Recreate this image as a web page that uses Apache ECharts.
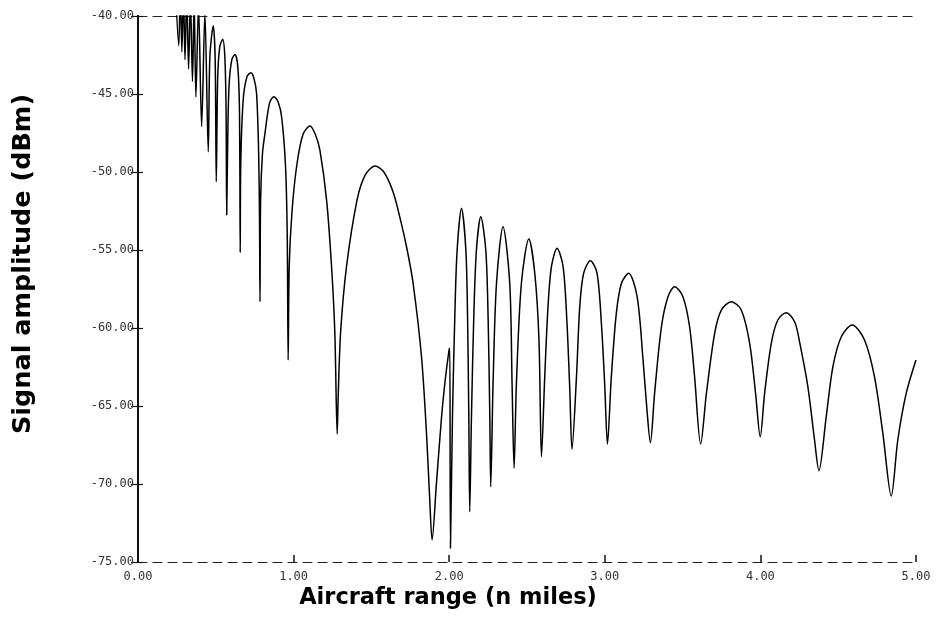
<!DOCTYPE html>
<html lang="en">
<head>
    <meta charset="UTF-8">
    <title>Signal amplitude vs aircraft range</title>
    <script src="https://cdn.jsdelivr.net/npm/echarts@6/dist/echarts.min.js"></script>
    <style>
        html, body { margin: 0; padding: 0; background: #fff; }
    </style>
</head>
<body>
<div id="echarts" style="width: 941px;height:629px"></div>
<script>
    // 轴刻度
    var xTicks = [0, 1, 2, 3, 4, 5];
    var yTicks = [-75, -70, -65, -60, -55, -50, -45, -40];

    // 曲线: [range (n miles), amplitude (dBm)]
    var rangeNear = [
        [0.240, -38.0], [0.262, -41.9], [0.272, -38.2], [0.282, -42.3], [0.292, -38.4],
        [0.302, -42.8], [0.313, -38.6], [0.325, -43.4], [0.337, -38.8], [0.350, -44.2],
        [0.361, -39.0], [0.372, -45.2], [0.389, -39.3], [0.409, -47.10], [0.430, -39.8],
        [0.4515, -48.70], [0.462, -42.6], [0.4836, -40.62], [0.496, -42.8], [0.503, -50.62],
        [0.512, -44.0], [0.525, -42.0], [0.544, -41.49], [0.558, -42.6], [0.566, -46.0], [0.570, -52.76],
        [0.578, -47.0], [0.586, -44.31], [0.603, -42.8], [0.623, -42.46], [0.641, -43.2], [0.652, -46.0], [0.657, -55.16],
        [0.660, -49.66], [0.676, -45.38], [0.700, -43.9], [0.726, -43.63], [0.745, -44.0], [0.762, -44.96],
        [0.775, -48.6], [0.781, -53.0], [0.784, -58.31],
        [0.788, -51.8], [0.800, -48.8], [0.816, -47.52], [0.845, -45.6], [0.873, -45.17], [0.900, -45.5],
        [0.923, -46.46], [0.948, -49.6], [0.959, -54.0], [0.965, -62.05],
        [0.972, -56.0], [0.990, -52.5], [1.020, -49.6], [1.060, -47.6], [1.105, -47.05], [1.140, -47.6],
        [1.169, -48.6], [1.212, -51.8], [1.244, -56.07], [1.265, -60.3], [1.280, -66.8],
        [1.286, -64.6], [1.302, -60.3], [1.340, -56.07], [1.408, -51.79], [1.460, -50.2], [1.524, -49.62],
        [1.580, -50.0], [1.640, -51.3], [1.690, -53.2], [1.730, -55.0], [1.768, -57.13], [1.822, -61.84],
        [1.854, -66.73], [1.875, -71.03], [1.890, -73.59]
    ];
    var rangeFar = [
        [1.918, -69.96], [1.951, -65.69], [1.972, -63.54], [1.999, -61.41], [2.004, -61.30], [2.008, -74.12],
        [2.021, -65.69], [2.036, -59.28], [2.051, -55.0], [2.079, -52.33], [2.107, -55.0], [2.118, -59.28],
        [2.126, -65.69], [2.132, -71.78],
        [2.143, -65.69], [2.158, -59.28], [2.175, -55.0], [2.203, -52.87], [2.235, -55.0], [2.250, -59.28],
        [2.261, -65.69], [2.267, -70.17],
        [2.282, -63.54], [2.304, -57.13], [2.346, -53.51], [2.389, -57.13], [2.404, -63.54], [2.417, -68.99],
        [2.432, -63.54], [2.464, -57.13], [2.512, -54.3], [2.550, -56.49], [2.577, -60.77], [2.593, -68.25],
        [2.614, -63.12], [2.635, -58.63], [2.657, -56.07], [2.693, -54.89], [2.732, -56.07], [2.757, -59.70],
        [2.775, -63.97], [2.789, -67.78],
        [2.818, -63.12], [2.839, -58.63], [2.864, -56.49], [2.907, -55.69], [2.950, -56.49], [2.978, -59.70],
        [2.999, -63.54], [3.017, -67.44],
        [3.042, -63.12], [3.074, -59.06], [3.107, -57.13], [3.153, -56.49], [3.208, -58.0], [3.245, -61.94],
        [3.271, -65.26], [3.293, -67.35],
        [3.320, -64.19], [3.364, -59.92], [3.406, -57.99], [3.449, -57.35], [3.502, -57.99], [3.545, -59.92],
        [3.577, -63.12], [3.616, -67.44],
        [3.653, -64.19], [3.706, -60.34], [3.749, -58.85], [3.813, -58.31], [3.877, -58.85], [3.931, -60.98],
        [3.969, -64.19], [3.999, -66.97],
        [4.027, -64.19], [4.070, -60.98], [4.112, -59.49], [4.166, -59.02], [4.220, -59.60], [4.252, -60.9],
        [4.305, -63.76], [4.348, -67.18], [4.376, -69.15],
        [4.423, -65.69], [4.466, -62.48], [4.520, -60.56], [4.590, -59.81], [4.669, -60.77], [4.733, -63.12],
        [4.787, -66.75], [4.841, -70.77],
        [4.883, -67.18], [4.937, -64.19], [5.000, -62.05]
    ];
    var signal = rangeNear.concat(rangeFar);

    var chartDom = document.getElementById('echarts');
    var myChart = echarts.init(chartDom);
    var option;

    var tickFont = {
        fontFamily: 'DejaVu Sans Mono',
        fontSize: 12,
        color: '#333'
    };

    option = {
        animation: false,
        backgroundColor: '#fff',
        grid: {
            left: 138,
            right: 25,
            top: 16,
            bottom: 67
        },
        xAxis: [{
            type: 'value',
            position: 'bottom',
            min: xTicks[0],
            max: xTicks[xTicks.length - 1],
            interval: 1,
            axisLine: { lineStyle: { color: '#222', width: 1.2, type: [9, 6] } },
            axisTick: { inside: true, length: 7, lineStyle: { color: '#111', width: 1.5 } },
            axisLabel: Object.assign({ margin: 9, formatter: function (v) { return v.toFixed(2); } }, tickFont),
            splitLine: { show: false }
        }, {
            type: 'value',
            position: 'top',
            min: xTicks[0],
            max: xTicks[xTicks.length - 1],
            interval: 1,
            axisLine: { lineStyle: { color: '#222', width: 1.2, type: [9, 6] } },
            axisTick: { show: false },
            axisLabel: { show: false },
            splitLine: { show: false }
        }],
        yAxis: [{
            type: 'value',
            position: 'left',
            min: yTicks[0],
            max: yTicks[yTicks.length - 1],
            interval: 5,
            axisLine: { show: true, lineStyle: { color: '#111', width: 2 } },
            axisTick: { inside: true, length: 5, lineStyle: { color: '#111', width: 1.2 } },
            axisLabel: Object.assign({ margin: 4, formatter: function (v) { return v.toFixed(2); } }, tickFont),
            splitLine: { show: false }
        }, {
            type: 'value',
            position: 'right',
            min: yTicks[0],
            max: yTicks[yTicks.length - 1],
            interval: 5,
            axisLine: { show: true, lineStyle: { color: '#111', width: 2 } },
            axisTick: { inside: true, length: 7, lineStyle: { color: '#111', width: 1.2 } },
            axisLabel: { show: false },
            splitLine: { show: false }
        }],
        // 轴标题
        graphic: [{
            type: 'text',
            x: 448,
            y: 598,
            style: {
                text: 'Aircraft range (n miles)',
                font: 'bold 22.5px "DejaVu Sans"',
                fill: '#000',
                align: 'center',
                verticalAlign: 'middle'
            }
        }, {
            type: 'text',
            x: 23,
            y: 264,
            rotation: Math.PI / 2,
            style: {
                text: 'Signal amplitude (dBm)',
                font: 'bold 25.5px "DejaVu Sans"',
                fill: '#000',
                align: 'center',
                verticalAlign: 'middle'
            }
        }],
        series: [{
            type: 'line',
            data: signal,
            xAxisIndex: 0,
            yAxisIndex: 0,
            showSymbol: false,
            smooth: 0.3,
            clip: true,
            lineStyle: { color: '#000', width: 1.5 }
        }]
    };

    option && myChart.setOption(option);
</script>
</body>
</html>
